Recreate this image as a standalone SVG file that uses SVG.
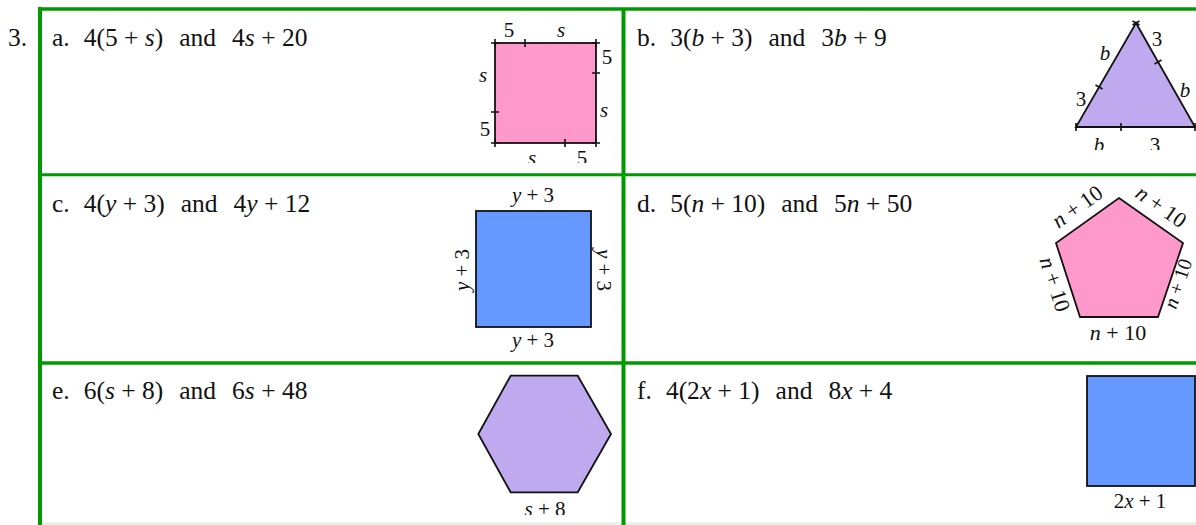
<svg xmlns="http://www.w3.org/2000/svg" width="1196" height="525" viewBox="0 0 1196 525">
<style>
.t{font-family:"Liberation Serif","Times New Roman",serif;font-size:25.5px;fill:#111}
.l{font-family:"Liberation Serif","Times New Roman",serif;font-size:21px;fill:#111}
.p{font-size:22px}
.i{font-style:italic}
.g{stroke:#009a00;fill:none}
.sh{stroke:#111;stroke-width:1.8;stroke-linejoin:miter}
.tk{stroke:#111;stroke-width:1.6;fill:none}
</style>
<defs>
<clipPath id="ca"><rect x="465" y="12" width="155" height="151"/></clipPath>
<clipPath id="cb"><rect x="1060" y="12" width="136" height="138"/></clipPath>
<clipPath id="ce"><rect x="465" y="366" width="155" height="149"/></clipPath>
</defs>
<rect width="1196" height="525" fill="#fff"/>
<g id="grid">
<line x1="42" y1="523.5" x2="1196" y2="523.5" stroke="#dcf2dc" stroke-width="2"/>
<line class="g" x1="38" y1="9" x2="1196" y2="9" stroke-width="3.6"/>
<line class="g" x1="40" y1="7" x2="40" y2="525" stroke-width="4"/>
<line class="g" x1="623.5" y1="9" x2="623.5" y2="525" stroke-width="4"/>
<line class="g" x1="40" y1="174.7" x2="1196" y2="174.7" stroke-width="3"/>
<line class="g" x1="40" y1="363" x2="1196" y2="363" stroke-width="3.5"/>
</g>
<text class="t" x="8" y="46">3.</text>
<g id="a">
<text class="t" x="52" y="46">a.<tspan dx="14">4(5 + </tspan><tspan class="i">s</tspan>)<tspan dx="16">and</tspan><tspan dx="16">4</tspan><tspan class="i">s</tspan> + 20</text>
<g clip-path="url(#ca)">
<rect class="sh" x="495" y="43" width="101" height="100" fill="#ff99cc"/>
<path class="tk" d="M491 43H499M495 39V47M592 43H600M596 39V47M491 143H499M495 139V147M592 143H600M596 139V147M525 39V47M592 73H600M491 112H499M565 139V147"/>
<text class="l" x="509" y="37" text-anchor="middle">5</text>
<text class="l i" x="561" y="37" text-anchor="middle">s</text>
<text class="l" x="607" y="64" text-anchor="middle">5</text>
<text class="l i" x="604" y="117" text-anchor="middle">s</text>
<text class="l i" x="483" y="82" text-anchor="middle">s</text>
<text class="l" x="485" y="136" text-anchor="middle">5</text>
<text class="l i" x="532" y="165" text-anchor="middle">s</text>
<text class="l" x="582" y="165" text-anchor="middle">5</text>
</g>
</g>
<g id="b">
<text class="t" x="637" y="46">b.<tspan dx="14">3(</tspan><tspan class="i">b</tspan> + 3)<tspan dx="16">and</tspan><tspan dx="16">3</tspan><tspan class="i">b</tspan> + 9</text>
<g clip-path="url(#cb)">
<polygon class="sh" points="1136,23 1195,127 1076,127" fill="#bfaaf0"/>
<path class="tk" d="M1076 123V131M1195 123V131M1121 123V131M1095.5 85L1102.5 89M1154.5 64L1161.5 60M1132.5 21L1139.5 25M1132.5 25L1139.5 21"/>
<text class="l i" x="1105" y="60" text-anchor="middle">b</text>
<text class="l" x="1081" y="106" text-anchor="middle">3</text>
<text class="l" x="1157" y="46" text-anchor="middle">3</text>
<text class="l i" x="1185" y="97" text-anchor="middle">b</text>
<text class="l i" x="1099" y="152" text-anchor="middle">b</text>
<text class="l" x="1155" y="152" text-anchor="middle">3</text>
</g>
</g>
<g id="c">
<text class="t" x="52" y="212">c.<tspan dx="14">4(</tspan><tspan class="i">y</tspan> + 3)<tspan dx="16">and</tspan><tspan dx="16">4</tspan><tspan class="i">y</tspan> + 12</text>
<rect class="sh" x="476" y="211" width="115" height="116" fill="#6699ff" stroke-width="1.5"/>
<text class="l" x="533" y="202" text-anchor="middle"><tspan class="i">y</tspan> + 3</text>
<text class="l" x="533" y="347" text-anchor="middle"><tspan class="i">y</tspan> + 3</text>
<text class="l" text-anchor="middle" transform="translate(469,270) rotate(-90)"><tspan class="i">y</tspan> + 3</text>
<text class="l" text-anchor="middle" transform="translate(597,270) rotate(90)"><tspan class="i">y</tspan> + 3</text>
</g>
<g id="d">
<text class="t" x="637" y="212">d.<tspan dx="14">5(</tspan><tspan class="i">n</tspan> + 10)<tspan dx="16">and</tspan><tspan dx="16">5</tspan><tspan class="i">n</tspan> + 50</text>
<polygon class="sh" points="1119,198 1183,243 1158,317 1080,317 1056,243" fill="#ff99cc"/>
<text class="l p" x="1118" y="340" text-anchor="middle"><tspan class="i">n</tspan> + 10</text>
<text class="l p" text-anchor="middle" transform="translate(1081.5,212.5) rotate(-35.5)"><tspan class="i">n</tspan> + 10</text>
<text class="l p" text-anchor="middle" transform="translate(1157,212.5) rotate(35.1)"><tspan class="i">n</tspan> + 10</text>
<text class="l p" text-anchor="middle" transform="translate(1048,286.5) rotate(72)"><tspan class="i">n</tspan> + 10</text>
<text class="l" text-anchor="middle" font-size="20" style="font-size:20px" transform="translate(1184.3,285.8) rotate(-71.3)"><tspan class="i">n</tspan> + 10</text>
</g>
<g id="e">
<text class="t" x="52" y="399">e.<tspan dx="14">6(</tspan><tspan class="i">s</tspan> + 8)<tspan dx="16">and</tspan><tspan dx="16">6</tspan><tspan class="i">s</tspan> + 48</text>
<g clip-path="url(#ce)">
<polygon class="sh" points="510.7,375.7 577.7,375.7 611,434 577.7,492.3 510.7,492.3 478.3,434" fill="#bfaaf0"/>
<text class="l" x="545" y="516" text-anchor="middle"><tspan class="i">s</tspan> + 8</text>
</g>
</g>
<g id="f">
<text class="t" x="637" y="399">f.<tspan dx="14">4(2</tspan><tspan class="i">x</tspan> + 1)<tspan dx="16">and</tspan><tspan dx="16">8</tspan><tspan class="i">x</tspan> + 4</text>
<rect class="sh" x="1087" y="376" width="108" height="110" fill="#6699ff" stroke-width="2.4"/>
<text class="l" x="1140" y="508" text-anchor="middle">2<tspan class="i">x</tspan> + 1</text>
</g>
</svg>
